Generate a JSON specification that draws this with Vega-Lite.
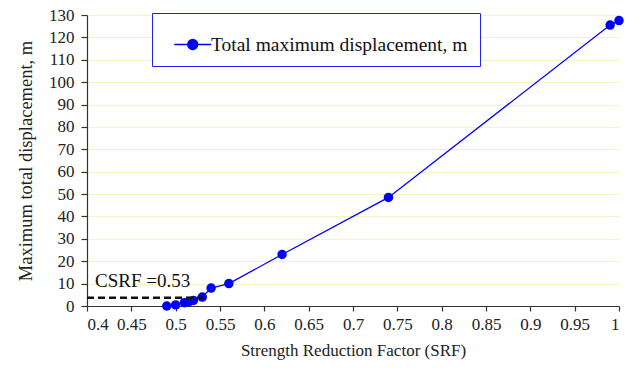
{
  "$schema": "https://vega.github.io/schema/vega-lite/v6.json",
  "width": 532,
  "height": 291,
  "autosize": {"type": "none"},
  "padding": {"left": 87, "top": 15, "right": 13, "bottom": 63},
  "background": "white",
  "config": {
    "font": "Liberation Serif",
    "view": {"stroke": null},
    "text": {"font": "Liberation Serif"},
    "axis": {"labelFont": "Liberation Serif", "titleFont": "Liberation Serif"},
    "style": {"guide-label": {"font": "Liberation Serif"}, "guide-title": {"font": "Liberation Serif"}}
  },
  "datasets": {
    "main": [
      {"srf": 0.49, "disp": 0, "series": "Total maximum displacement, m"},
      {"srf": 0.50, "disp": 0.5, "series": "Total maximum displacement, m"},
      {"srf": 0.51, "disp": 1.5, "series": "Total maximum displacement, m"},
      {"srf": 0.515, "disp": 2, "series": "Total maximum displacement, m"},
      {"srf": 0.52, "disp": 2.5, "series": "Total maximum displacement, m"},
      {"srf": 0.53, "disp": 4, "series": "Total maximum displacement, m"},
      {"srf": 0.54, "disp": 8, "series": "Total maximum displacement, m"},
      {"srf": 0.56, "disp": 10, "series": "Total maximum displacement, m"},
      {"srf": 0.62, "disp": 23, "series": "Total maximum displacement, m"},
      {"srf": 0.74, "disp": 48.5, "series": "Total maximum displacement, m"},
      {"srf": 0.99, "disp": 125.5, "series": "Total maximum displacement, m"},
      {"srf": 1.0, "disp": 127.5, "series": "Total maximum displacement, m"}
    ],
    "csrf": [
      {"srf": 0.4, "srf2": 0.531, "disp": 3.7, "label": "CSRF =0.53", "tx": 0.409, "ty": 8.5}
    ]
  },
  "encoding": {
    "x": {
      "field": "srf", "type": "quantitative",
      "scale": {"domain": [0.4, 1.0], "nice": false, "zero": false},
      "axis": {
        "title": "Strength Reduction Factor (SRF)",
        "values": [0.4, 0.45, 0.5, 0.55, 0.6, 0.65, 0.7, 0.75, 0.8, 0.85, 0.9, 0.95, 1.0],
        "format": "~g",
        "grid": false,
        "labelOverlap": false,
        "labelFont": "Liberation Serif",
        "titleFont": "Liberation Serif",
        "labelFontSize": 17,
        "titleFontSize": 17,
        "labelColor": "#222222",
        "titleColor": "#222222",
        "titleFontWeight": "normal",
        "domainColor": "#333333",
        "tickColor": "#333333",
        "tickSize": 5,
        "domainWidth": 1.2,
        "tickWidth": 1.2,
        "labelPadding": 5,
        "titlePadding": 10
      }
    },
    "y": {
      "field": "disp", "type": "quantitative",
      "scale": {"domain": [0, 130], "nice": false, "zero": true},
      "axis": {
        "title": "Maximum total displacement, m",
        "values": [0, 10, 20, 30, 40, 50, 60, 70, 80, 90, 100, 110, 120, 130],
        "grid": true,
        "gridColor": "#f3f3c4",
        "gridWidth": 1,
        "labelOverlap": false,
        "labelFont": "Liberation Serif",
        "titleFont": "Liberation Serif",
        "labelFontSize": 17,
        "titleFontSize": 18.5,
        "labelColor": "#222222",
        "titleColor": "#222222",
        "titleFontWeight": "normal",
        "domainColor": "#333333",
        "tickColor": "#333333",
        "tickSize": 6,
        "domainWidth": 1.2,
        "tickWidth": 1.2,
        "labelPadding": 7,
        "titlePadding": 13
      }
    }
  },
  "layer": [
    {
      "data": {"name": "main"},
      "mark": {"type": "line", "strokeWidth": 1.3, "color": "#5050ff"},
      "encoding": {
        "color": {
          "field": "series", "type": "nominal",
          "scale": {"range": ["#0000ff"]},
          "legend": {
            "title": null,
            "orient": "none",
            "legendX": 65,
            "legendY": -2,
            "padding": 12,
            "strokeColor": "#2222ee",
            "fillColor": "white",
            "labelFont": "Liberation Serif",
            "labelFontSize": 19.5,
            "labelColor": "#111111",
            "labelOffset": 8,
            "labelLimit": 400,
            "symbolType": "M-0.5,0H1.5M0.77,0A0.27,0.27,0,1,1,0.23,0A0.27,0.27,0,1,1,0.77,0",
            "symbolSize": 1369,
            "symbolStrokeWidth": 1.3,
            "symbolFillColor": "#0000ff",
            "symbolStrokeColor": "#0000ff"
          }
        }
      }
    },
    {
      "data": {"name": "main"},
      "mark": {"type": "point", "filled": true, "size": 90, "opacity": 1},
      "encoding": {
        "color": {"field": "series", "type": "nominal"}
      }
    },
    {
      "data": {"name": "csrf"},
      "mark": {"type": "rule", "color": "#111111", "strokeWidth": 2.5, "strokeDash": [7, 4]},
      "encoding": {
        "x2": {"field": "srf2"}
      }
    },
    {
      "data": {"name": "csrf"},
      "mark": {"type": "text", "align": "left", "baseline": "alphabetic", "font": "Liberation Serif", "fontSize": 19, "color": "#111111"},
      "encoding": {
        "x": {"field": "tx", "type": "quantitative"},
        "y": {"field": "ty", "type": "quantitative"},
        "text": {"field": "label"}
      }
    }
  ]
}
